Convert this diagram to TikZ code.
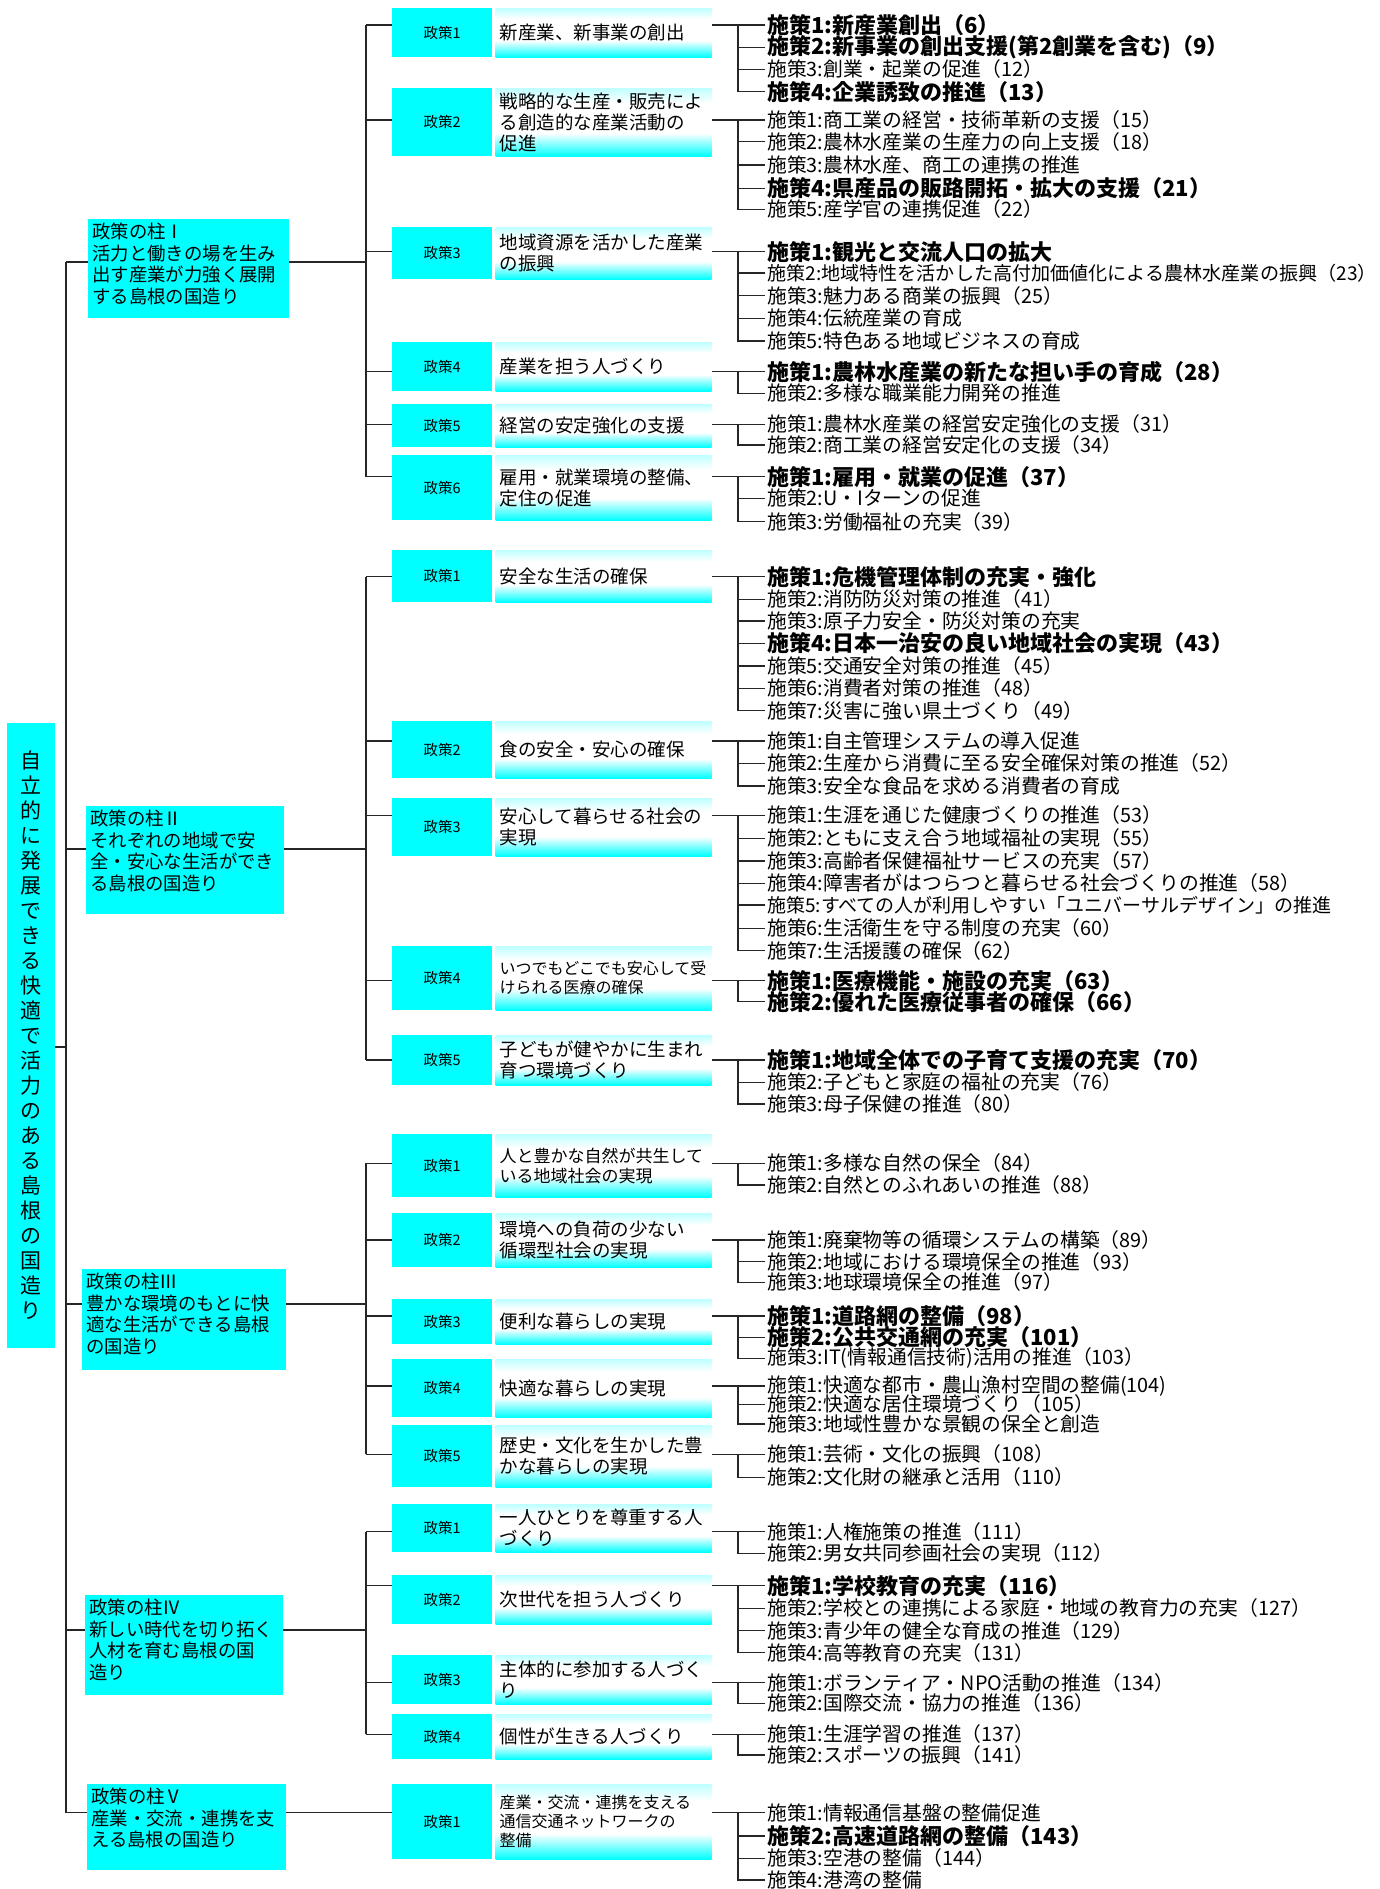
\documentclass[tikz,border=0pt]{standalone}
\usepackage{fontspec}
\setmainfont{Noto Sans CJK JP}
\usetikzlibrary{positioning}
\definecolor{aqua}{RGB}{0,255,255}
\pgfdeclareverticalshading{ttlshade}{100bp}{color(0bp)=(aqua); color(25bp)=(aqua); color(42bp)=(white); color(64bp)=(white); color(75bp)=(aqua!25); color(100bp)=(aqua!25)}

\begin{document}
\begin{tikzpicture}[x=1pt, y=-1pt, node distance=3pt]
	\tikzstyle{link}=[draw=black!85, line width=1.1pt]
	\tikzstyle{rootbox}=[fill=aqua, minimum width=48pt, minimum height=625pt, inner sep=0pt, align=center, font=\fontsize{21}{25}\selectfont]
	\tikzstyle{pillar}=[fill=aqua, anchor=north west, inner sep=4pt, font=\fontsize{18.4}{21.5}\selectfont]
	\tikzstyle{policy}=[fill=aqua, anchor=north west, minimum width=100pt, inner sep=1pt, font=\fontsize{14.5}{16}\selectfont]
	\tikzstyle{ptitle}=[shade, shading=ttlshade, text width=208pt, align=left, inner xsep=4pt, inner ysep=1pt, font=\fontsize{18.5}{21}\selectfont]
	\tikzstyle{measure}=[anchor=west, inner sep=2pt, font=\fontsize{19.8}{22}\selectfont]
	\tikzstyle{measureb}=[measure, font=\fontsize{22}{22}\selectfont\bfseries]
	\useasboundingbox (0,0) rectangle (1379,1889);

	% root and pillars
	\node[rootbox] (root) at (31,1035.5) {自\\立\\的\\に\\発\\展\\で\\き\\る\\快\\適\\で\\活\\力\\の\\あ\\る\\島\\根\\の\\国\\造\\り};
	\node[pillar] (pillar1) at (88,219) {\parbox[c][91pt][t]{193pt}{政策の柱Ⅰ\\活力と働きの場を生み\\出す産業が力強く展開\\する島根の国造り}};
	\node[pillar] (pillar2) at (86,806) {\parbox[c][100pt][t]{190pt}{政策の柱Ⅱ\\それぞれの地域で安\\全・安心な生活ができ\\る島根の国造り}};
	\node[pillar] (pillar3) at (82,1269) {\parbox[c][93pt][t]{196pt}{政策の柱Ⅲ\\豊かな環境のもとに快\\適な生活ができる島根\\の国造り}};
	\node[pillar] (pillar4) at (85,1595) {\parbox[c][92pt][t]{190pt}{政策の柱Ⅳ\\新しい時代を切り拓く\\人材を育む島根の国\\造り}};
	\node[pillar] (pillar5) at (87,1784) {\parbox[c][78pt][t]{191pt}{政策の柱Ⅴ\\産業・交流・連携を支\\える島根の国造り}};
	\coordinate (rb) at (66,1047);
	\coordinate (j1) at (366,262);
	\coordinate (j2) at (366,849);
	\coordinate (j3) at (366,1304);
	\coordinate (j4) at (366,1630);

	% pillar I
	\node[policy, minimum height=49pt] (s11) at (392,8) {政策1};
	\node[ptitle, minimum height=49pt, right=of s11] (t11) {新産業、新事業の創出};
	\node[measureb] (i11a) at (765,25) {施策1:新産業創出（6）};
	\node[measureb] (i11b) at (765,47.7) {施策2:新事業の創出支援(第2創業を含む)（9）};
	\node[measure] (i11c) at (765,69.3) {施策3:創業・起業の促進（12）};
	\node[measureb] (i11d) at (765,91.7) {施策4:企業誘致の推進（13）};

	\node[policy, minimum height=68pt] (s12) at (392,88) {政策2};
	\node[ptitle, minimum height=68pt, right=of s12] (t12) {戦略的な生産・販売によ\\る創造的な産業活動の\\促進};
	\node[measure] (i12a) at (765,120) {施策1:商工業の経営・技術革新の支援（15）};
	\node[measure] (i12b) at (765,141.7) {施策2:農林水産業の生産力の向上支援（18）};
	\node[measure] (i12c) at (765,165) {施策3:農林水産、商工の連携の推進};
	\node[measureb] (i12d) at (765,188.3) {施策4:県産品の販路開拓・拡大の支援（21）};
	\node[measure] (i12e) at (765,209.3) {施策5:産学官の連携促進（22）};

	\node[policy, minimum height=52pt] (s13) at (392,227) {政策3};
	\node[ptitle, minimum height=52pt, right=of s13] (t13) {地域資源を活かした産業\\の振興};
	\node[measureb] (i13a) at (765,251.7) {施策1:観光と交流人口の拡大};
	\node[measure, font=\fontsize{19.1}{22}\selectfont] (i13b) at (765,273) {施策2:地域特性を活かした高付加価値化による農林水産業の振興（23）};
	\node[measure] (i13c) at (765,295.7) {施策3:魅力ある商業の振興（25）};
	\node[measure] (i13d) at (765,318.3) {施策4:伝統産業の育成};
	\node[measure] (i13e) at (765,341) {施策5:特色ある地域ビジネスの育成};

	\node[policy, minimum height=49pt] (s14) at (392,342) {政策4};
	\node[ptitle, minimum height=49pt, right=of s14] (t14) {産業を担う人づくり};
	\node[measureb] (i14a) at (765,371.7) {施策1:農林水産業の新たな担い手の育成（28）};
	\node[measure] (i14b) at (765,393.3) {施策2:多様な職業能力開発の推進};

	\node[policy, minimum height=43pt] (s15) at (392,404) {政策5};
	\node[ptitle, minimum height=43pt, right=of s15] (t15) {経営の安定強化の支援};
	\node[measure] (i15a) at (765,424.3) {施策1:農林水産業の経営安定強化の支援（31）};
	\node[measure] (i15b) at (765,445) {施策2:商工業の経営安定化の支援（34）};

	\node[policy, minimum height=65pt] (s16) at (392,455) {政策6};
	\node[ptitle, minimum height=65pt, right=of s16] (t16) {雇用・就業環境の整備、\\定住の促進};
	\node[measureb] (i16a) at (765,476.7) {施策1:雇用・就業の促進（37）};
	\node[measure] (i16b) at (765,498.3) {施策2:U・Iターンの促進};
	\node[measure] (i16c) at (765,521.7) {施策3:労働福祉の充実（39）};

	% pillar II
	\node[policy, minimum height=52pt] (s21) at (392,550) {政策1};
	\node[ptitle, minimum height=52pt, right=of s21] (t21) {安全な生活の確保};
	\node[measureb] (i21a) at (765,576.7) {施策1:危機管理体制の充実・強化};
	\node[measure] (i21b) at (765,599.3) {施策2:消防防災対策の推進（41）};
	\node[measure] (i21c) at (765,621) {施策3:原子力安全・防災対策の充実};
	\node[measureb] (i21d) at (765,643.3) {施策4:日本一治安の良い地域社会の実現（43）};
	\node[measure] (i21e) at (765,666) {施策5:交通安全対策の推進（45）};
	\node[measure] (i21f) at (765,688.3) {施策6:消費者対策の推進（48）};
	\node[measure] (i21g) at (765,710.7) {施策7:災害に強い県土づくり（49）};

	\node[policy, minimum height=57pt] (s22) at (392,721) {政策2};
	\node[ptitle, minimum height=57pt, right=of s22] (t22) {食の安全・安心の確保};
	\node[measure] (i22a) at (765,741) {施策1:自主管理システムの導入促進};
	\node[measure] (i22b) at (765,763.3) {施策2:生産から消費に至る安全確保対策の推進（52）};
	\node[measure] (i22c) at (765,786) {施策3:安全な食品を求める消費者の育成};

	\node[policy, minimum height=58pt] (s23) at (392,798) {政策3};
	\node[ptitle, minimum height=58pt, right=of s23] (t23) {安心して暮らせる社会の\\実現};
	\node[measure] (i23a) at (765,815.3) {施策1:生涯を通じた健康づくりの推進（53）};
	\node[measure] (i23b) at (765,838.3) {施策2:ともに支え合う地域福祉の実現（55）};
	\node[measure] (i23c) at (765,861) {施策3:高齢者保健福祉サービスの充実（57）};
	\node[measure] (i23d) at (765,883.3) {施策4:障害者がはつらつと暮らせる社会づくりの推進（58）};
	\node[measure, font=\fontsize{19}{22}\selectfont] (i23e) at (765,905) {施策5:すべての人が利用しやすい「ユニバーサルデザイン」の推進};
	\node[measure] (i23f) at (765,928.3) {施策6:生活衛生を守る制度の充実（60）};
	\node[measure] (i23g) at (765,950.7) {施策7:生活援護の確保（62）};

	\node[policy, minimum height=64pt] (s24) at (392,946) {政策4};
	\node[ptitle, minimum height=64pt, right=of s24, font=\fontsize{16}{19}\selectfont] (t24) {いつでもどこでも安心して受\\けられる医療の確保};
	\node[measureb] (i24a) at (765,980.7) {施策1:医療機能・施設の充実（63）};
	\node[measureb] (i24b) at (765,1001.7) {施策2:優れた医療従事者の確保（66）};

	\node[policy, minimum height=50pt] (s25) at (392,1035) {政策5};
	\node[ptitle, minimum height=50pt, right=of s25] (t25) {子どもが健やかに生まれ\\育つ環境づくり};
	\node[measureb] (i25a) at (765,1060) {施策1:地域全体での子育て支援の充実（70）};
	\node[measure] (i25b) at (765,1082.3) {施策2:子どもと家庭の福祉の充実（76）};
	\node[measure] (i25c) at (765,1104) {施策3:母子保健の推進（80）};

	% pillar III
	\node[policy, minimum height=63pt] (s31) at (392,1134) {政策1};
	\node[ptitle, minimum height=63pt, right=of s31, font=\fontsize{17}{20}\selectfont] (t31) {人と豊かな自然が共生して\\いる地域社会の実現};
	\node[measure] (i31a) at (765,1163.3) {施策1:多様な自然の保全（84）};
	\node[measure] (i31b) at (765,1185) {施策2:自然とのふれあいの推進（88）};

	\node[policy, minimum height=54pt] (s32) at (392,1213) {政策2};
	\node[ptitle, minimum height=54pt, right=of s32] (t32) {環境への負荷の少ない\\循環型社会の実現};
	\node[measure] (i32a) at (765,1240) {施策1:廃棄物等の循環システムの構築（89）};
	\node[measure] (i32b) at (765,1261.7) {施策2:地域における環境保全の推進（93）};
	\node[measure] (i32c) at (765,1282.3) {施策3:地球環境保全の推進（97）};

	\node[policy, minimum height=45pt] (s33) at (392,1299) {政策3};
	\node[ptitle, minimum height=45pt, right=of s33] (t33) {便利な暮らしの実現};
	\node[measureb] (i33a) at (765,1316) {施策1:道路網の整備（98）};
	\node[measureb] (i33b) at (765,1337.3) {施策2:公共交通網の充実（101）};
	\node[measure] (i33c) at (765,1358.3) {施策3:IT(情報通信技術)活用の推進（103）};

	\node[policy, minimum height=58pt] (s34) at (392,1359) {政策4};
	\node[ptitle, minimum height=58pt, right=of s34] (t34) {快適な暮らしの実現};
	\node[measure] (i34a) at (765,1386) {施策1:快適な都市・農山漁村空間の整備(104)};
	\node[measure] (i34b) at (765,1404.3) {施策2:快適な居住環境づくり（105）};
	\node[measure] (i34c) at (765,1424) {施策3:地域性豊かな景観の保全と創造};

	\node[policy, minimum height=62pt] (s35) at (392,1425) {政策5};
	\node[ptitle, minimum height=62pt, right=of s35] (t35) {歴史・文化を生かした豊\\かな暮らしの実現};
	\node[measure] (i35a) at (765,1454.3) {施策1:芸術・文化の振興（108）};
	\node[measure] (i35b) at (765,1477.3) {施策2:文化財の継承と活用（110）};

	% pillar IV
	\node[policy, minimum height=48pt] (s41) at (392,1504) {政策1};
	\node[ptitle, minimum height=48pt, right=of s41] (t41) {一人ひとりを尊重する人\\づくり};
	\node[measure] (i41a) at (765,1531.7) {施策1:人権施策の推進（111）};
	\node[measure] (i41b) at (765,1553.3) {施策2:男女共同参画社会の実現（112）};

	\node[policy, minimum height=49pt] (s42) at (392,1575) {政策2};
	\node[ptitle, minimum height=49pt, right=of s42] (t42) {次世代を担う人づくり};
	\node[measureb] (i42a) at (765,1585.7) {施策1:学校教育の充実（116）};
	\node[measure] (i42b) at (765,1608.3) {施策2:学校との連携による家庭・地域の教育力の充実（127）};
	\node[measure] (i42c) at (765,1630.7) {施策3:青少年の健全な育成の推進（129）};
	\node[measure] (i42d) at (765,1652.7) {施策4:高等教育の充実（131）};

	\node[policy, minimum height=49pt] (s43) at (392,1655) {政策3};
	\node[ptitle, minimum height=49pt, right=of s43] (t43) {主体的に参加する人づく\\り};
	\node[measure] (i43a) at (765,1682.7) {施策1:ボランティア・NPO活動の推進（134）};
	\node[measure] (i43b) at (765,1703.3) {施策2:国際交流・協力の推進（136）};

	\node[policy, minimum height=45pt] (s44) at (392,1714) {政策4};
	\node[ptitle, minimum height=45pt, right=of s44] (t44) {個性が生きる人づくり};
	\node[measure] (i44a) at (765,1734.3) {施策1:生涯学習の推進（137）};
	\node[measure] (i44b) at (765,1755) {施策2:スポーツの振興（141）};

	% pillar V
	\node[policy, minimum height=75pt] (s51) at (392,1784) {政策1};
	\node[ptitle, minimum height=75pt, right=of s51, font=\fontsize{16}{19}\selectfont] (t51) {産業・交流・連携を支える\\通信交通ネットワークの\\整備};
	\node[measure] (i51a) at (765,1812.7) {施策1:情報通信基盤の整備促進};
	\node[measureb] (i51b) at (765,1836) {施策2:高速道路網の整備（143）};
	\node[measure] (i51c) at (765,1858.3) {施策3:空港の整備（144）};
	\node[measure] (i51d) at (765,1880) {施策4:港湾の整備};

	% root and pillar connectors
	\draw[link] (rb |- j1) -- (rb |- i51a.west) (root.east |- rb) -- (rb);
	\draw[link] (rb |- j1) -- (pillar1.west |- j1) (pillar1.east |- j1) -- (j1)
		(j1 |- i11a.west) -- (j1 |- i16a.west)
		(j1 |- i11a.west) -- (s11.west |- i11a.west)
		(j1 |- i12a.west) -- (s12.west |- i12a.west)
		(j1 |- i13a.west) -- (s13.west |- i13a.west)
		(j1 |- i14a.west) -- (s14.west |- i14a.west)
		(j1 |- i15a.west) -- (s15.west |- i15a.west)
		(j1 |- i16a.west) -- (s16.west |- i16a.west);
	\draw[link] (rb |- j2) -- (pillar2.west |- j2) (pillar2.east |- j2) -- (j2)
		(j2 |- i21a.west) -- (j2 |- i25a.west)
		(j2 |- i21a.west) -- (s21.west |- i21a.west)
		(j2 |- i22a.west) -- (s22.west |- i22a.west)
		(j2 |- i23a.west) -- (s23.west |- i23a.west)
		(j2 |- i24a.west) -- (s24.west |- i24a.west)
		(j2 |- i25a.west) -- (s25.west |- i25a.west);
	\draw[link] (rb |- j3) -- (pillar3.west |- j3) (pillar3.east |- j3) -- (j3)
		(j3 |- i31a.west) -- (j3 |- i35a.west)
		(j3 |- i31a.west) -- (s31.west |- i31a.west)
		(j3 |- i32a.west) -- (s32.west |- i32a.west)
		(j3 |- i33a.west) -- (s33.west |- i33a.west)
		(j3 |- i34a.west) -- (s34.west |- i34a.west)
		(j3 |- i35a.west) -- (s35.west |- i35a.west);
	\draw[link] (rb |- j4) -- (pillar4.west |- j4) (pillar4.east |- j4) -- (j4)
		(j4 |- i41a.west) -- (j4 |- i44a.west)
		(j4 |- i41a.west) -- (s41.west |- i41a.west)
		(j4 |- i42a.west) -- (s42.west |- i42a.west)
		(j4 |- i43a.west) -- (s43.west |- i43a.west)
		(j4 |- i44a.west) -- (s44.west |- i44a.west);
	\draw[link] (rb |- i51a.west) -- (pillar5.west |- i51a.west)
		(pillar5.east |- i51a.west) -- (s51.west |- i51a.west);

	% policy to measure connectors
	\draw[link] (t11.east |- i11a.west) -- (i11a.west) ([xshift=-27pt]i11a.west) |- (i11d.west)
		([xshift=-27pt]i11b.west) -- (i11b.west) ([xshift=-27pt]i11c.west) -- (i11c.west);
	\draw[link] (t12.east |- i12a.west) -- (i12a.west) ([xshift=-27pt]i12a.west) |- (i12e.west)
		([xshift=-27pt]i12b.west) -- (i12b.west) ([xshift=-27pt]i12c.west) -- (i12c.west)
		([xshift=-27pt]i12d.west) -- (i12d.west);
	\draw[link] (t13.east |- i13a.west) -- (i13a.west) ([xshift=-27pt]i13a.west) |- (i13e.west)
		([xshift=-27pt]i13b.west) -- (i13b.west) ([xshift=-27pt]i13c.west) -- (i13c.west)
		([xshift=-27pt]i13d.west) -- (i13d.west);
	\draw[link] (t14.east |- i14a.west) -- (i14a.west) ([xshift=-27pt]i14a.west) |- (i14b.west);
	\draw[link] (t15.east |- i15a.west) -- (i15a.west) ([xshift=-27pt]i15a.west) |- (i15b.west);
	\draw[link] (t16.east |- i16a.west) -- (i16a.west) ([xshift=-27pt]i16a.west) |- (i16c.west)
		([xshift=-27pt]i16b.west) -- (i16b.west);
	\draw[link] (t21.east |- i21a.west) -- (i21a.west) ([xshift=-27pt]i21a.west) |- (i21g.west)
		([xshift=-27pt]i21b.west) -- (i21b.west) ([xshift=-27pt]i21c.west) -- (i21c.west)
		([xshift=-27pt]i21d.west) -- (i21d.west) ([xshift=-27pt]i21e.west) -- (i21e.west)
		([xshift=-27pt]i21f.west) -- (i21f.west);
	\draw[link] (t22.east |- i22a.west) -- (i22a.west) ([xshift=-27pt]i22a.west) |- (i22c.west)
		([xshift=-27pt]i22b.west) -- (i22b.west);
	\draw[link] (t23.east |- i23a.west) -- (i23a.west) ([xshift=-27pt]i23a.west) |- (i23g.west)
		([xshift=-27pt]i23b.west) -- (i23b.west) ([xshift=-27pt]i23c.west) -- (i23c.west)
		([xshift=-27pt]i23d.west) -- (i23d.west) ([xshift=-27pt]i23e.west) -- (i23e.west)
		([xshift=-27pt]i23f.west) -- (i23f.west);
	\draw[link] (t24.east |- i24a.west) -- (i24a.west) ([xshift=-27pt]i24a.west) |- (i24b.west);
	\draw[link] (t25.east |- i25a.west) -- (i25a.west) ([xshift=-27pt]i25a.west) |- (i25c.west)
		([xshift=-27pt]i25b.west) -- (i25b.west);
	\draw[link] (t31.east |- i31a.west) -- (i31a.west) ([xshift=-27pt]i31a.west) |- (i31b.west);
	\draw[link] (t32.east |- i32a.west) -- (i32a.west) ([xshift=-27pt]i32a.west) |- (i32c.west)
		([xshift=-27pt]i32b.west) -- (i32b.west);
	\draw[link] (t33.east |- i33a.west) -- (i33a.west) ([xshift=-27pt]i33a.west) |- (i33c.west)
		([xshift=-27pt]i33b.west) -- (i33b.west);
	\draw[link] (t34.east |- i34a.west) -- (i34a.west) ([xshift=-27pt]i34a.west) |- (i34c.west)
		([xshift=-27pt]i34b.west) -- (i34b.west);
	\draw[link] (t35.east |- i35a.west) -- (i35a.west) ([xshift=-27pt]i35a.west) |- (i35b.west);
	\draw[link] (t41.east |- i41a.west) -- (i41a.west) ([xshift=-27pt]i41a.west) |- (i41b.west);
	\draw[link] (t42.east |- i42a.west) -- (i42a.west) ([xshift=-27pt]i42a.west) |- (i42d.west)
		([xshift=-27pt]i42b.west) -- (i42b.west) ([xshift=-27pt]i42c.west) -- (i42c.west);
	\draw[link] (t43.east |- i43a.west) -- (i43a.west) ([xshift=-27pt]i43a.west) |- (i43b.west);
	\draw[link] (t44.east |- i44a.west) -- (i44a.west) ([xshift=-27pt]i44a.west) |- (i44b.west);
	\draw[link] (t51.east |- i51a.west) -- (i51a.west) ([xshift=-27pt]i51a.west) |- (i51d.west)
		([xshift=-27pt]i51b.west) -- (i51b.west) ([xshift=-27pt]i51c.west) -- (i51c.west);
\end{tikzpicture}
\end{document}
